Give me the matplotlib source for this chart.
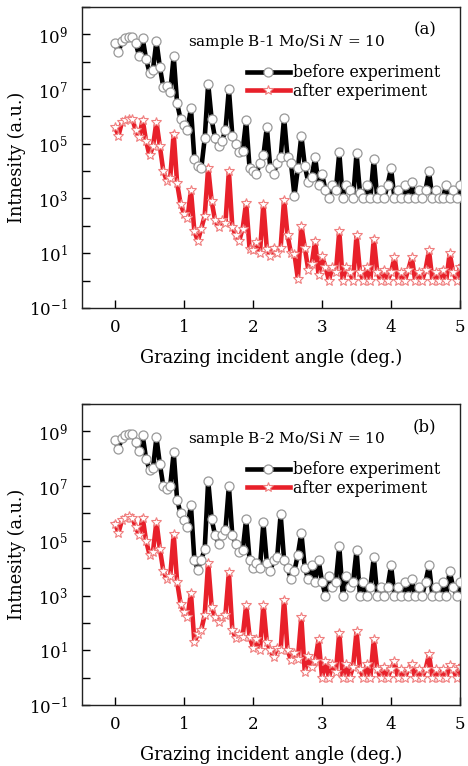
import numpy as np
import matplotlib
matplotlib.use("Agg")
import matplotlib.pyplot as plt

plt.rcParams['font.family'] = ['DejaVu Serif']
plt.rcParams['mathtext.fontset'] = 'dejavuserif'

# grazing angle grid (deg.), one reading every 0.05 deg
angle = np.linspace(0, 5, 101)

# log10 of intensity, panel (a) sample B-1
before_a = [8.67, 8.34, 8.75, 8.85, 8.9, 8.9, 8.67, 8.2, 8.85, 8.1,
            7.6, 7.7, 8.75, 7.8, 7.06, 7.1, 6.9, 8.2, 6.47, 5.9,
            5.7, 5.5, 6.3, 4.45, 4.2, 4.1, 5.2, 7.2, 5.9, 5.2,
            4.9, 5.1, 5.5, 7.0, 5.3, 5.0, 4.7, 4.75, 5.85, 4.1,
            4.0, 3.9, 4.3, 4.57, 5.6, 4.1, 3.9, 4.3, 4.5, 5.95,
            4.5, 4.3, 3.1, 4.1, 5.3, 4.2, 3.6, 3.8, 4.5, 3.5,
            3.9, 3.3, 3.0, 3.5, 3.3, 4.68, 3.0, 3.5, 3.3, 3.0,
            4.65, 3.2, 3.0, 3.5, 3.0, 4.45, 3.0, 3.3, 3.0, 3.5,
            4.1, 3.0, 3.3, 3.0, 3.5, 3.0, 3.6, 3.0, 3.3, 3.0,
            3.3, 4.0, 3.0, 3.3, 3.0, 3.0, 3.5, 3.0, 3.3, 3.0,
            3.5]
after_a = [5.6, 5.3, 5.78, 5.85, 5.92, 5.9, 5.5, 5.23, 5.88, 5.1,
           4.57, 4.9, 5.8, 4.9, 4.0, 3.65, 3.76, 5.37, 3.55, 2.8,
           2.45, 2.27, 3.3, 1.8, 1.45, 1.9, 2.37, 4.13, 2.9, 2.2,
           1.95, 2.2, 2.1, 4.0, 1.95, 1.65, 1.46, 1.9, 2.85, 1.16,
           1.1, 1.4, 1.0, 2.8, 1.16, 0.9, 1.2, 1.0, 1.2, 2.96,
           1.65, 1.0, 0.97, 0.06, 2.0, 1.2, 0.4, 0.6, 1.46, 0.2,
           0.9, 0.5, 0.0, 0.5, 0.3, 1.8, 0.0, 0.5, 0.3, 0.0,
           1.65, 0.3, 0.0, 0.5, 0.0, 1.53, 0.3, 0.0, 0.4, 0.0,
           0.3, 0.85, 0.0, 0.3, 0.0, 0.4, 0.85, 0.0, 0.3, 0.0,
           0.4, 1.1, 0.0, 0.3, 0.0, 0.4, 0.0, 1.0, 0.3, 0.0,
           0.5]

# panel (b) sample B-2
before_b = [8.67, 8.37, 8.75, 8.85, 8.9, 8.9, 8.6, 8.3, 8.85, 8.0,
            7.6, 7.65, 8.78, 7.8, 7.0, 6.9, 7.0, 8.23, 6.5, 6.0,
            5.75, 5.5, 6.3, 4.3, 3.95, 4.3, 4.7, 7.2, 5.8, 5.2,
            4.9, 5.2, 5.4, 7.0, 5.2, 4.9, 4.6, 4.65, 5.8, 4.3,
            4.0, 4.2, 4.0, 5.67, 4.2, 3.9, 4.3, 4.4, 5.97, 4.3,
            4.0, 3.6, 3.9, 4.5, 5.3, 4.0, 3.6, 4.1, 3.5, 4.3,
            3.5, 3.0, 3.7, 3.3, 3.5, 4.8, 3.0, 3.7, 3.3, 3.5,
            4.65, 3.0, 3.5, 3.0, 3.3, 4.4, 3.0, 3.3, 3.0, 3.3,
            4.1, 3.0, 3.3, 3.0, 3.5, 3.0, 3.6, 3.0, 3.3, 3.0,
            3.5, 4.1, 3.0, 3.3, 3.0, 3.5, 3.0, 3.9, 3.3, 3.0,
            3.5]
after_b = [5.63, 5.3, 5.75, 5.85, 5.9, 5.85, 5.5, 5.2, 5.85, 5.0,
           4.5, 4.6, 5.7, 4.7, 3.9, 3.6, 3.7, 5.25, 3.5, 2.7,
           2.4, 2.2, 3.1, 1.3, 1.6, 1.75, 2.3, 4.2, 2.6, 2.2,
           2.05, 2.2, 2.3, 3.85, 1.75, 1.45, 1.6, 1.5, 2.65, 1.5,
           1.1, 1.4, 1.0, 2.65, 1.3, 1.0, 0.75, 1.1, 1.0, 2.85,
           1.0, 0.65, 0.9, 0.7, 2.2, 0.2, 0.8, 0.4, 0.6, 1.4,
           0.0, 0.6, 0.0, 0.5, 0.2, 1.65, 0.0, 0.5, 0.0, 0.4,
           1.7, 0.3, 0.0, 0.5, 0.0, 1.4, 0.3, 0.0, 0.4, 0.0,
           0.3, 0.6, 0.0, 0.3, 0.0, 0.3, 0.5, 0.0, 0.3, 0.0,
           0.3, 0.85, 0.0, 0.3, 0.0, 0.3, 0.0, 0.45, 0.3, 0.0,
           0.4]

samples = ["sample B-1 Mo/Si $N$ = 10", "sample B-2 Mo/Si $N$ = 10"]
panels = ["(a)", "(b)"]
xticks = [0, 1, 2, 3, 4, 5]
yexp = list(range(-1, 11))


fig = plt.figure(figsize=(4.68, 7.66), dpi=100)
ax1 = fig.add_axes([0.175, 0.598, 0.808, 0.393])
ax2 = fig.add_axes([0.175, 0.0796, 0.808, 0.393])

for ax, before, after, sample, panel in zip([ax1, ax2], [before_a, before_b],
                                            [after_a, after_b], samples, panels):
  ax.plot(angle, 10 ** np.array(after), color='#e8202a', lw=3.3, marker='*', ms=7.5,
          mfc='white', mec='#f08080', mew=0.8, label="after experiment", zorder=2)
  ax.plot(angle, 10 ** np.array(before), color='black', lw=3.3, marker='o', ms=6.5,
          mfc='white', mec='#999999', mew=0.9, label="before experiment", zorder=3)

  ax.set_yscale('log')
  ax.set_xlim(-0.48, 5)
  ax.set_ylim(1e-1, 1e10)
  ax.set_yticks([10.0 ** k for k in yexp])
  ax.set_yticklabels([r"$10^{%d}$" % k if k % 2 == 1 else "" for k in yexp])
  ax.minorticks_off()
  ax.set_xticks(xticks)
  ax.set_xticklabels([str(t) for t in xticks])
  ax.tick_params(direction='in', length=6, width=1, labelsize=12, pad=8)
  ax.tick_params(axis='y', pad=10)
  for s in ax.spines.values():
    s.set_linewidth(1.0)
    s.set_color('#222222')

  ax.set_xlabel("Grazing incident angle (deg.)", fontsize=12.8, labelpad=9)
  ax.set_ylabel("Intnesity (a.u.)", fontsize=12.8, labelpad=2)
  ax.text(0.28, 0.884, sample, transform=ax.transAxes, fontsize=11, va='center')
  ax.text(0.907, 0.924, panel, transform=ax.transAxes, fontsize=12, va='center', ha='center')

  h, l = ax.get_legend_handles_labels()
  ax.legend(h[::-1], l[::-1], loc='upper left', bbox_to_anchor=(0.437, 0.81),
            frameon=False, fontsize=11.3, handlelength=2.7, handletextpad=0.2,
            labelspacing=0.1, borderpad=0, borderaxespad=0, numpoints=1)

plt.savefig("out.png", dpi=100)
